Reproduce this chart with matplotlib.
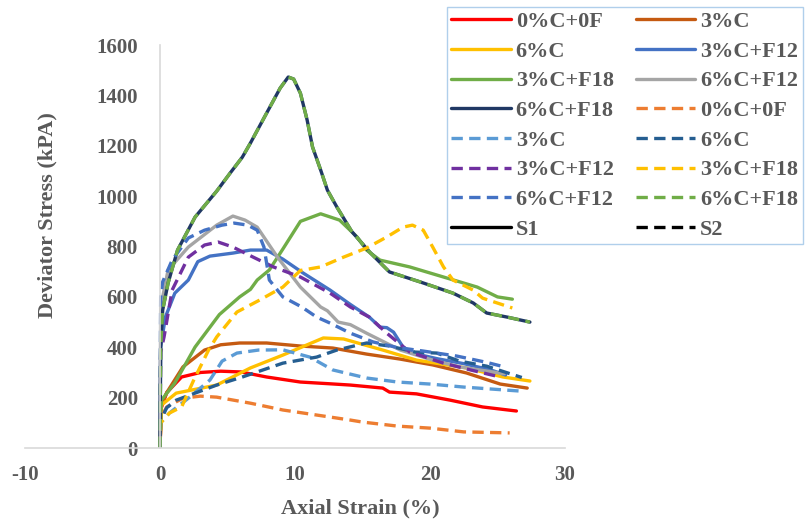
import matplotlib
matplotlib.use("Agg")
import matplotlib.pyplot as plt

# Axial strain (%) / deviator stress (kPA) for each mix
strain_0c0f = [0, 0.1, 0.5, 1.6, 3.0, 4.5, 6.0, 7.9, 10.4, 12.6, 14.1, 16.5, 17.0, 19.0, 21.5, 23.9, 26.4]
stress_0c0f = [0, 160, 220, 282, 300, 305, 302, 282, 262, 255, 250, 238, 222, 215, 190, 163, 147]

strain_3c = [0, 0.1, 0.5, 1.7, 3.3, 4.5, 5.9, 7.9, 10.4, 12.8, 15.3, 17.8, 20.2, 22.7, 25.2, 27.2]
stress_3c = [0, 170, 220, 322, 389, 410, 417, 417, 405, 397, 373, 353, 330, 298, 254, 238]

strain_6c = [0, 0.1, 1.2, 4.2, 6.7, 9.1, 12.1, 13.6, 16.5, 19.0, 22.7, 25.4, 27.4]
stress_6c = [0, 170, 218, 250, 318, 369, 437, 433, 389, 349, 318, 282, 266]

strain_3c_f12 = [0, 0.05, 0.4, 1.1, 2.1, 2.8, 3.7, 5.4, 6.7, 7.9, 9.1, 10.6, 12.6, 14.1,
                 15.5, 16.3, 16.8, 17.3, 18.0, 18.7, 20.5, 22.5, 24.5, 25.6]
stress_3c_f12 = [0, 400, 520, 615, 667, 740, 762, 774, 786, 786, 750, 695, 627, 570,
                 520, 480, 478, 460, 401, 377, 355, 335, 310, 290]

strain_3c_f18 = [0, 0.1, 1.1, 2.6, 4.4, 5.9, 6.7, 7.2, 8.1, 9.1, 10.4, 11.9, 13.3, 14.6,
                 15.3, 16.3, 18.5, 21.0, 23.5, 25.0, 26.1]
stress_3c_f18 = [0, 190, 258, 401, 530, 600, 630, 667, 707, 790, 900, 930, 905, 838,
                 786, 746, 719, 679, 639, 600, 591]

strain_6c_f12 = [0, 0.05, 0.6, 2.1, 4.2, 5.4, 6.3, 7.2, 8.7, 10.4, 11.9, 12.4, 13.2, 14.1,
                 15.3, 17.8, 20.2, 22.2, 25.5]
stress_6c_f12 = [0, 560, 707, 798, 885, 921, 905, 877, 758, 639, 560, 545, 500, 490,
                 456, 389, 349, 322, 295]

strain_6c_f18 = [0, 0.05, 0.2, 0.6, 1.3, 2.6, 4.2, 5.2, 6.1, 6.7, 7.9, 8.9, 9.5, 9.9,
                 10.4, 10.9, 11.3, 11.9, 12.4, 13.1, 14.2, 15.6, 17.0, 19.3, 21.7, 23.2,
                 24.2, 25.7, 27.4]
stress_6c_f18 = [0, 400, 548, 655, 786, 917, 1020, 1092, 1155, 1211, 1330, 1429, 1473, 1465,
                 1409, 1302, 1195, 1104, 1024, 957, 860, 774, 699, 659, 615, 576,
                 536, 520, 500]

strain_0c0f_b = [0, 0.05, 0.5, 1.7, 3.0, 4.2, 6.7, 9.1, 11.6, 14.1, 15.0, 17.6, 20.0, 22.5, 25.9]
stress_0c0f_b = [0, 120, 163, 198, 206, 202, 178, 151, 131, 111, 103, 87, 79, 64, 60]

strain_3c_b = [0, 0.05, 0.7, 2.2, 3.7, 4.6, 5.7, 7.3, 9.1, 11.1, 12.8, 15.3, 17.6, 20.0, 22.5, 26.7]
stress_3c_b = [0, 100, 139, 202, 270, 345, 377, 389, 390, 361, 310, 278, 262, 254, 242, 226]

strain_6c_b = [0, 0.05, 0.5, 1.2, 4.2, 6.1, 9.1, 11.6, 13.1, 15.3, 17.0, 18.9, 20.5, 22.2, 24.2, 26.8]
stress_6c_b = [0, 110, 160, 190, 250, 282, 337, 361, 389, 417, 405, 381, 377, 345, 325, 280]

strain_3c_f12_b = [0, 0.05, 0.3, 0.9, 2.1, 3.3, 4.3, 5.4, 6.9, 8.4, 10.4, 12.6, 14.1,
                   15.5, 16.8, 18.5, 21.0, 23.0, 25.2]
stress_3c_f12_b = [0, 380, 441, 627, 758, 806, 818, 798, 758, 719, 679, 615, 560,
                   520, 456, 381, 337, 310, 282]

strain_3c_f18_b = [0, 0.05, 0.7, 1.6, 2.5, 3.6, 4.2, 5.7, 7.4, 9.1, 10.4, 11.9, 13.6,
                   15.3, 16.8, 18.0, 18.7, 19.5, 20.2, 21.0, 21.7, 23.2, 23.9, 26.1]
stress_3c_f18_b = [0, 100, 139, 163, 270, 389, 441, 540, 588, 639, 705, 719, 758,
                   794, 838, 877, 885, 865, 798, 719, 667, 627, 595, 556]

strain_6c_f12_b = [0, 0.05, 0.2, 0.9, 2.1, 3.3, 4.6, 5.5, 6.5, 7.2, 7.7, 7.9, 8.1, 9.1,
                   10.5, 11.6, 12.6, 14.1, 15.8, 17.5, 19.5, 22.0, 24.2, 25.3]
stress_6c_f12_b = [0, 600, 660, 746, 834, 865, 885, 893, 885, 865, 798, 734, 667, 600,
                   560, 520, 496, 456, 421, 400, 385, 365, 340, 325]

# 6%C+F18 dashed follows the same record as the solid one
strain_6c_f18_b = strain_6c_f18
stress_6c_f18_b = stress_6c_f18

x_ticks = [-10, 0, 10, 20, 30]
y_ticks = [0, 200, 400, 600, 800, 1000, 1200, 1400, 1600]

GREY_TEXT = "#595959"
DASH = (3.4, 1.9)


def main():
    plt.rcParams["font.family"] = ["Liberation Serif", "DejaVu Serif"]
    plt.rcParams["font.weight"] = "bold"
    plt.rcParams["axes.unicode_minus"] = False

    fig = plt.figure(figsize=(8.06, 5.24), dpi=100)
    ax = fig.add_axes([0.031, 0.145, 0.670, 0.769])

    series = [
        (strain_0c0f, stress_0c0f, "#FF0000", False, "0%C+0F"),
        (strain_3c, stress_3c, "#C55A11", False, "3%C"),
        (strain_6c, stress_6c, "#FFC000", False, "6%C"),
        (strain_3c_f12, stress_3c_f12, "#4472C4", False, "3%C+F12"),
        (strain_3c_f18, stress_3c_f18, "#70AD47", False, "3%C+F18"),
        (strain_6c_f12, stress_6c_f12, "#A5A5A5", False, "6%C+F12"),
        (strain_6c_f18, stress_6c_f18, "#203864", False, "6%C+F18"),
        (strain_0c0f_b, stress_0c0f_b, "#ED7D31", True, "0%C+0F"),
        (strain_3c_b, stress_3c_b, "#5B9BD5", True, "3%C"),
        (strain_6c_b, stress_6c_b, "#255E91", True, "6%C"),
        (strain_3c_f12_b, stress_3c_f12_b, "#7030A0", True, "3%C+F12"),
        (strain_3c_f18_b, stress_3c_f18_b, "#FFC000", True, "3%C+F18"),
        (strain_6c_f12_b, stress_6c_f12_b, "#4472C4", True, "6%C+F12"),
        (strain_6c_f18_b, stress_6c_f18_b, "#70AD47", True, "6%C+F18"),
        ([], [], "#000000", False, "S1"),
        ([], [], "#000000", True, "S2"),
    ]

    handles = []
    for x, y, color, dashed, label in series:
        line, = ax.plot(x, y, color=color, lw=2.4, label=label,
                        solid_joinstyle="round", solid_capstyle="round")
        if dashed:
            line.set_dashes(DASH)
        handles.append(line)

    ax.set_xlim(-10, 30)
    ax.set_ylim(0, 1600)
    ax.set_xticks(x_ticks)
    ax.set_yticks(y_ticks)

    ax.spines["left"].set_position(("data", 0))
    for side in ("top", "right"):
        ax.spines[side].set_visible(False)
    for side in ("left", "bottom"):
        ax.spines[side].set_color("#D9D9D9")
        ax.spines[side].set_linewidth(1.2)

    ax.tick_params(axis="y", length=0, pad=16, labelsize=15, labelcolor=GREY_TEXT)
    ax.tick_params(axis="x", length=0, pad=12, labelsize=15, labelcolor=GREY_TEXT)

    fig.text(47 / 806, 1 - 215 / 524, "Deviator Stress (kPA)", rotation=90,
             ha="center", va="center", fontsize=16, color=GREY_TEXT)
    fig.text(360 / 806, 1 - 508 / 524, "Axial Strain (%)",
             ha="center", va="center", fontsize=16, color=GREY_TEXT)

    # legend fills column by column, so interleave to read row by row
    ordered = handles[0::2] + handles[1::2]
    leg = ax.legend(ordered, [h.get_label() for h in ordered],
                    loc="upper left", bbox_to_anchor=(447 / 806, 1 - 7 / 524),
                    bbox_transform=fig.transFigure, ncol=2, fontsize=16,
                    frameon=True, fancybox=False, borderpad=0.2,
                    labelspacing=0.41, handlelength=2.66, handletextpad=0.23,
                    columnspacing=1.0, borderaxespad=0)
    leg.get_frame().set_edgecolor("#9DC3E6")
    leg.get_frame().set_linewidth(1.0)
    for text in leg.get_texts():
        text.set_color(GREY_TEXT)

    fig.savefig("out.png", dpi=100)


if __name__ == "__main__":
    main()
